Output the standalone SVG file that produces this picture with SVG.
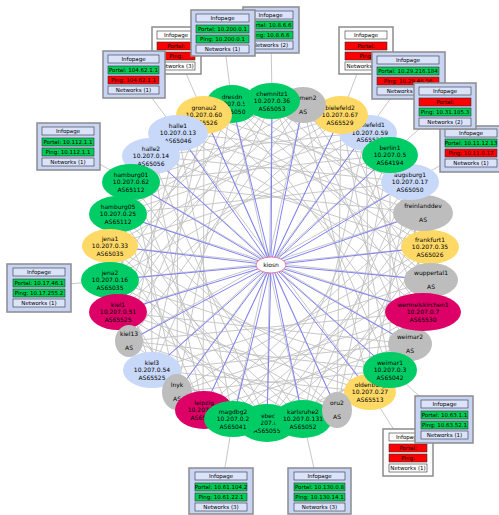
<svg xmlns="http://www.w3.org/2000/svg" width="499" height="515" viewBox="0 0 499 515">
<style>
text{font-family:"DejaVu Sans",sans-serif;font-size:6px;text-anchor:middle;fill:#000}
.g{fill:#00cc66}.y{fill:#ffd966}.b{fill:#c8d8f8}.s{fill:#bdbdbd}.m{fill:#dd0066}
.mesh{fill:none;stroke:#c2c2c2;stroke-width:0.9}
.spk{fill:none;stroke:#7373ff;stroke-width:0.9}
.lnk{fill:none;stroke:#c8c8c8;stroke-width:1}
.ob{fill:#c8d4f4;stroke:#8c8c8c;stroke-width:1.5}
.ow{fill:#fff;stroke:#8c8c8c;stroke-width:1.5}
.ch{fill:#dae3fa;stroke:#333;stroke-width:0.6}
.cw{fill:#fff;stroke:#333;stroke-width:0.6}
.cg{fill:#00cc55;stroke:#333;stroke-width:0.6}
.cr{fill:#ff0000;stroke:#333;stroke-width:0.6}
.bt{font-size:5.5px}
</style>
<g id="connectors">
<path class="mesh" d="M272 101L151 156M232 104L131 182M204 115L118 214M178 133L110 246M151 156L110 280M131 182L118 312M118 214L129 341M110 246L152 370M110 280L177 392M118 312L203 410M129 341L233 419M152 370L267 423M177 392L303 419M203 410L337 410M233 419L370 392M267 423L390 370M303 419L410 344M337 410L423 312M370 392L431 280M390 370L430 247M410 344L423 213M423 312L410 182M431 280L390 155M430 247L366 132M423 213L341 116M410 182L303 105M390 155L272 101M366 132L232 104M341 116L204 115M303 105L178 133"/>
<path class="mesh" d="M272 101L110 246M232 104L110 280M204 115L118 312M178 133L129 341M151 156L152 370M131 182L177 392M118 214L203 410M110 246L233 419M110 280L267 423M118 312L303 419M129 341L337 410M152 370L370 392M177 392L390 370M203 410L410 344M233 419L423 312M267 423L431 280M303 419L430 247M337 410L423 213M370 392L410 182M390 370L390 155M410 344L366 132M423 312L341 116M431 280L303 105M430 247L272 101M423 213L232 104M410 182L204 115M390 155L178 133M366 132L151 156M341 116L131 182M303 105L118 214"/>
<path class="mesh" d="M272 101L118 312M232 104L129 341M204 115L152 370M178 133L177 392M151 156L203 410M131 182L233 419M118 214L267 423M110 246L303 419M110 280L337 410M118 312L370 392M129 341L390 370M152 370L410 344M177 392L423 312M203 410L431 280M233 419L430 247M267 423L423 213M303 419L410 182M337 410L390 155M370 392L366 132M390 370L341 116M410 344L303 105M423 312L272 101M431 280L232 104M430 247L204 115M423 213L178 133M410 182L151 156M390 155L131 182M366 132L118 214M341 116L110 246M303 105L110 280"/>
<path class="mesh" d="M272 101L152 370M232 104L177 392M204 115L203 410M178 133L233 419M151 156L267 423M131 182L303 419M118 214L337 410M110 246L370 392M110 280L390 370M118 312L410 344M129 341L423 312M152 370L431 280M177 392L430 247M203 410L423 213M233 419L410 182M267 423L390 155M303 419L366 132M337 410L341 116M370 392L303 105M390 370L272 101M410 344L232 104M423 312L204 115M431 280L178 133M430 247L151 156M423 213L131 182M410 182L118 214M390 155L110 246M366 132L110 280M341 116L118 312M303 105L129 341"/>
<path class="mesh" d="M272 101L267 423M232 104L303 419M204 115L337 410M178 133L370 392M151 156L390 370M131 182L410 344M118 214L423 312M110 246L431 280M110 280L430 247M118 312L423 213M129 341L410 182M152 370L390 155M177 392L366 132M203 410L341 116M233 419L303 105"/>
<path class="spk" d="M271 265L272 101M271 265L232 104M271 265L204 115M271 265L178 133M271 265L151 156M271 265L131 182M271 265L118 214M271 265L110 246M271 265L110 280M271 265L118 312M271 265L129 341M271 265L152 370M271 265L177 392M271 265L203 410M271 265L233 419M271 265L267 423M271 265L303 419M271 265L337 410M271 265L370 392M271 265L390 370M271 265L410 344M271 265L423 312M271 265L431 280M271 265L430 247M271 265L423 213M271 265L410 182M271 265L390 155M271 265L366 132M271 265L341 116M271 265L303 105"/>
<path class="lnk" d="M134 74L178 133M176 50L204 115M223 33L232 104M271 30L272 101M366 50L341 116M408 75L366 132M445 106L390 155M471 149L410 182M68 146L131 182M39 287L110 280M221 491L233 419M319 491L303 419M408 452L370 392M444 419L390 369"/>
</g>
<g id="nodes">
<g id="n-dresdn"><ellipse class="g" cx="232" cy="104" rx="26" ry="19"/><text x="232" y="98.7">dresdn<tspan x="232" dy="7.5">10.207.0.55</tspan><tspan x="232" dy="7.5">AS65050</tspan></text></g>
<g id="n-bielefeld1"><ellipse class="b" cx="368" cy="133" rx="29" ry="18"/><text x="370" y="127.2">bielefeld1<tspan x="370" dy="7.5">10.207.0.59</tspan><tspan x="370" dy="7.5">AS65528</tspan></text></g>
<g id="n-bielefeld2"><ellipse class="y" cx="341" cy="115" rx="27" ry="19"/><text x="340" y="109.7">bielefeld2<tspan x="340" dy="7.5">10.207.0.67</tspan><tspan x="340" dy="7.5">AS65529</tspan></text></g>
<g id="n-bremen2"><ellipse class="s" cx="303" cy="105" rx="23" ry="18"/><text x="303" y="100">bremen2<tspan x="303" dy="14">AS</tspan></text></g>
<g id="n-chemnitz1"><ellipse class="g" cx="272" cy="101" rx="28" ry="18"/><text x="272" y="95.7">chemnitz1<tspan x="272" dy="7.5">10.207.0.36</tspan><tspan x="272" dy="7.5">AS65053</tspan></text></g>
<g id="n-gronau2"><ellipse class="y" cx="204" cy="115" rx="28" ry="19"/><text x="204" y="109.7">gronau2<tspan x="204" dy="7.5">10.207.0.60</tspan><tspan x="204" dy="7.5">AS65526</tspan></text></g>
<g id="n-halle1"><ellipse class="b" cx="178" cy="133" rx="30" ry="18"/><text x="178" y="127.7">halle1<tspan x="178" dy="7.5">10.207.0.13</tspan><tspan x="178" dy="7.5">AS65046</tspan></text></g>
<g id="n-halle2"><ellipse class="b" cx="151" cy="156" rx="29" ry="18"/><text x="151" y="150.7">halle2<tspan x="151" dy="7.5">10.207.0.14</tspan><tspan x="151" dy="7.5">AS65056</tspan></text></g>
<g id="n-hamburg01"><ellipse class="g" cx="131" cy="182" rx="29" ry="18"/><text x="131" y="176.7">hamburg01<tspan x="131" dy="7.5">10.207.0.62</tspan><tspan x="131" dy="7.5">AS65112</tspan></text></g>
<g id="n-hamburg05"><ellipse class="g" cx="118" cy="214" rx="29" ry="18"/><text x="118" y="208.7">hamburg05<tspan x="118" dy="7.5">10.207.0.25</tspan><tspan x="118" dy="7.5">AS65112</tspan></text></g>
<g id="n-jena1"><ellipse class="y" cx="110" cy="246" rx="28" ry="17"/><text x="110" y="240.7">jena1<tspan x="110" dy="7.5">10.207.0.33</tspan><tspan x="110" dy="7.5">AS65035</tspan></text></g>
<g id="n-jena2"><ellipse class="g" cx="110" cy="280" rx="29" ry="18"/><text x="110" y="274.7">jena2<tspan x="110" dy="7.5">10.207.0.16</tspan><tspan x="110" dy="7.5">AS65035</tspan></text></g>
<g id="n-kiel1"><ellipse class="m" cx="118" cy="312" rx="29" ry="18"/><text x="118" y="306.7">kiel1<tspan x="118" dy="7.5">10.207.0.51</tspan><tspan x="118" dy="7.5">AS65525</tspan></text></g>
<g id="n-kiel13"><ellipse class="s" cx="129" cy="341" rx="14" ry="16"/><text x="129" y="336">kiel13<tspan x="129" dy="14">AS</tspan></text></g>
<g id="n-kiel3"><ellipse class="b" cx="152" cy="370" rx="29" ry="18"/><text x="152" y="364.7">kiel3<tspan x="152" dy="7.5">10.207.0.54</tspan><tspan x="152" dy="7.5">AS65525</tspan></text></g>
<g id="n-lnyk"><ellipse class="s" cx="177" cy="392" rx="15" ry="18"/><text x="177" y="387">lnyk<tspan x="177" dy="14">AS</tspan></text></g>
<g id="n-leipzig"><ellipse class="m" cx="204" cy="410" rx="29" ry="19"/><text x="204" y="404.7">leipzig<tspan x="204" dy="7.5">10.207.0.1</tspan><tspan x="204" dy="7.5">AS65531</tspan></text></g>
<g id="n-ebe"><ellipse class="g" cx="267" cy="423" rx="29" ry="19"/><text x="267" y="417.7">luebeck<tspan x="267" dy="7.5">10.207.0.4</tspan><tspan x="267" dy="7.5">AS65055</tspan></text></g>
<g id="n-mgdbg2"><ellipse class="g" cx="233" cy="419" rx="29" ry="18"/><text x="233" y="413.7">magdbg2<tspan x="233" dy="7.5">10.207.0.2</tspan><tspan x="233" dy="7.5">AS65041</tspan></text></g>
<g id="n-karlsruhe2"><ellipse class="g" cx="303" cy="419" rx="29" ry="19"/><text x="303" y="413.7">karlsruhe2<tspan x="303" dy="7.5">10.207.0.131</tspan><tspan x="303" dy="7.5">AS65052</tspan></text></g>
<g id="n-oldenburg"><ellipse class="y" cx="370" cy="392" rx="26" ry="18"/><text x="370" y="386.7">oldenburg<tspan x="370" dy="7.5">10.207.0.27</tspan><tspan x="370" dy="7.5">AS65513</tspan></text></g>
<g id="n-oru2"><ellipse class="s" cx="337" cy="410" rx="15" ry="18"/><text x="337" y="405">oru2<tspan x="337" dy="14">AS</tspan></text></g>
<g id="n-weimar2"><ellipse class="s" cx="410" cy="344" rx="22" ry="17"/><text x="410" y="339">weimar2<tspan x="410" dy="14">AS</tspan></text></g>
<g id="n-weimar1"><ellipse class="g" cx="390" cy="370" rx="27" ry="18"/><text x="390" y="364.7">weimar1<tspan x="390" dy="7.5">10.207.0.3</tspan><tspan x="390" dy="7.5">AS65042</tspan></text></g>
<g id="n-frankfurt1"><ellipse class="y" cx="430" cy="247" rx="29" ry="17"/><text x="430" y="241.7">frankfurt1<tspan x="430" dy="7.5">10.207.0.35</tspan><tspan x="430" dy="7.5">AS65026</tspan></text></g>
<g id="n-wuppertal1"><ellipse class="s" cx="431" cy="280" rx="27" ry="17"/><text x="431" y="275">wuppertal1<tspan x="431" dy="14">AS</tspan></text></g>
<g id="n-wermelskirchen1"><ellipse class="m" cx="423" cy="312" rx="38" ry="19"/><text x="423" y="306.7">wermelskirchen1<tspan x="423" dy="7.5">10.207.0.7</tspan><tspan x="423" dy="7.5">AS65530</tspan></text></g>
<g id="n-freinlanddev"><ellipse class="s" cx="423" cy="213" rx="30" ry="18"/><text x="423" y="208">freinlanddev<tspan x="423" dy="14">AS</tspan></text></g>
<g id="n-augsburg1"><ellipse class="b" cx="410" cy="182" rx="29" ry="18"/><text x="410" y="176.7">augsburg1<tspan x="410" dy="7.5">10.207.0.17</tspan><tspan x="410" dy="7.5">AS65050</tspan></text></g>
<g id="n-berlin1"><ellipse class="g" cx="390" cy="155" rx="28" ry="18"/><text x="390" y="149.7">berlin1<tspan x="390" dy="7.5">10.207.0.5</tspan><tspan x="390" dy="7.5">AS64194</tspan></text></g>
<g id="n-kiosn"><ellipse cx="271" cy="265" rx="15" ry="8" fill="#fff" stroke="#e0608a" stroke-width="0.8"/><text x="271" y="267">kiosn</text></g>
</g>
<g id="infopages" class="bt">
<g id="box-b" transform="translate(152,27)"><rect class="ow" width="49" height="47"/><rect class="cw" x="5" y="4" width="38" height="8"/><rect class="cr" x="5" y="15" width="38" height="8"/><rect class="cr" x="5" y="25" width="38" height="8"/><rect class="cw" x="5" y="35" width="38" height="8"/><text class="bt" x="24" y="10">Infopage</text><text class="bt" x="24" y="21">Portal:</text><text class="bt" x="24" y="31">Ping:</text><text class="bt" x="24" y="41">Networks (3)</text></g>
<g id="box-a" transform="translate(103,51)"><rect class="ob" width="62" height="47"/><rect class="ch" x="5" y="4" width="51" height="8"/><rect class="cg" x="5" y="15" width="51" height="8"/><rect class="cr" x="5" y="25" width="51" height="8"/><rect class="ch" x="5" y="35" width="51" height="8"/><text class="bt" x="30.5" y="10">Infopage</text><text class="bt" x="30.5" y="21">Portal: 104.62.1.1</text><text class="bt" x="30.5" y="31">Ping: 104.62.1.1</text><text class="bt" x="30.5" y="41">Networks (1)</text></g>
<g id="box-d" transform="translate(243,7)"><rect class="ob" width="56" height="46"/><rect class="ch" x="5" y="4" width="45" height="8"/><rect class="cg" x="5" y="14" width="45" height="8"/><rect class="cg" x="5" y="24" width="45" height="8"/><rect class="ch" x="5" y="34" width="45" height="8"/><text class="bt" x="27.5" y="10">Infopage</text><text class="bt" x="27.5" y="20">Portal: 10.8.6.6</text><text class="bt" x="27.5" y="30">Ping: 10.8.6.6</text><text class="bt" x="27.5" y="40">Networks (2)</text></g>
<g id="box-c" transform="translate(191,10)"><rect class="ob" width="64" height="46"/><rect class="ch" x="5" y="4" width="53" height="8"/><rect class="cg" x="5" y="15" width="53" height="8"/><rect class="cg" x="5" y="25" width="53" height="8"/><rect class="ch" x="5" y="35" width="53" height="8"/><text class="bt" x="31.5" y="10">Infopage</text><text class="bt" x="31.5" y="21">Portal: 10.200.0.1</text><text class="bt" x="31.5" y="31">Ping: 10.200.0.1</text><text class="bt" x="31.5" y="41">Networks (1)</text></g>
<g id="box-e" transform="translate(339,27)"><rect class="ow" width="54" height="47"/><rect class="cw" x="6" y="4" width="42" height="8"/><rect class="cr" x="6" y="15" width="42" height="8"/><rect class="cr" x="6" y="25" width="42" height="8"/><rect class="cw" x="6" y="35" width="42" height="8"/><text class="bt" x="27" y="10">Infopage</text><text class="bt" x="27" y="21">Portal:</text><text class="bt" x="27" y="31">Ping:</text><text class="bt" x="27" y="41">Networks (10)</text></g>
<g id="box-f" transform="translate(372,52)"><rect class="ob" width="73" height="47"/><rect class="ch" x="5" y="4" width="62" height="8"/><rect class="cg" x="5" y="15" width="62" height="8"/><rect class="cr" x="5" y="25" width="62" height="8"/><rect class="ch" x="5" y="35" width="62" height="8"/><text class="bt" x="36" y="10">Infopage</text><text class="bt" x="36" y="21">Portal: 10.29.216.184</text><text class="bt" x="36" y="31">Ping: 10.29.46.56</text><text class="bt" x="36" y="41">Networks (139)</text></g>
<g id="box-h" transform="translate(440,126)"><rect class="ob" width="62" height="46"/><rect class="ch" x="5" y="3" width="52" height="8"/><rect class="cg" x="5" y="13" width="52" height="8"/><rect class="cr" x="5" y="23" width="52" height="8"/><rect class="ch" x="5" y="33" width="52" height="8"/><text class="bt" x="31" y="9">Infopage</text><text class="bt" x="31" y="19">Portal: 10.11.12.13</text><text class="bt" x="31" y="29">Ping: 10.11.0.17</text><text class="bt" x="31" y="39">Networks (1)</text></g>
<g id="box-g" transform="translate(414,83)"><rect class="ob" width="62" height="46"/><rect class="ch" x="5" y="4" width="52" height="8"/><rect class="cr" x="5" y="15" width="52" height="8"/><rect class="cg" x="5" y="25" width="52" height="8"/><rect class="ch" x="5" y="35" width="52" height="8"/><text class="bt" x="31" y="10">Infopage</text><text class="bt" x="31" y="21">Portal:</text><text class="bt" x="31" y="31">Ping: 10.31.105.3</text><text class="bt" x="31" y="41">Networks (2)</text></g>
<g id="box-i" transform="translate(37,123)"><rect class="ob" width="63" height="47"/><rect class="ch" x="5" y="4" width="52" height="8"/><rect class="cg" x="5" y="15" width="52" height="8"/><rect class="cg" x="5" y="25" width="52" height="8"/><rect class="ch" x="5" y="35" width="52" height="8"/><text class="bt" x="31" y="10">Infopage</text><text class="bt" x="31" y="21">Portal: 10.112.1.1</text><text class="bt" x="31" y="31">Ping: 10.112.1.1</text><text class="bt" x="31" y="41">Networks (1)</text></g>
<g id="box-j" transform="translate(7,264)"><rect class="ob" width="64" height="48"/><rect class="ch" x="6" y="4" width="52" height="8"/><rect class="cg" x="6" y="15" width="52" height="8"/><rect class="cg" x="6" y="25" width="52" height="8"/><rect class="ch" x="6" y="35" width="52" height="8"/><text class="bt" x="32" y="10">Infopage</text><text class="bt" x="32" y="21">Portal: 10.17.46.1</text><text class="bt" x="32" y="31">Ping: 10.17.255.2</text><text class="bt" x="32" y="41">Networks (1)</text></g>
<g id="box-k" transform="translate(189,468)"><rect class="ob" width="64" height="46"/><rect class="ch" x="6" y="4" width="52" height="8"/><rect class="cg" x="6" y="15" width="52" height="8"/><rect class="cg" x="6" y="25" width="52" height="8"/><rect class="ch" x="6" y="35" width="52" height="8"/><text class="bt" x="32" y="10">Infopage</text><text class="bt" x="32" y="21">Portal: 10.61.104.2</text><text class="bt" x="32" y="31">Ping: 10.61.22.1</text><text class="bt" x="32" y="41">Networks (3)</text></g>
<g id="box-l" transform="translate(288,468)"><rect class="ob" width="63" height="46"/><rect class="ch" x="6" y="4" width="51" height="8"/><rect class="cg" x="6" y="15" width="51" height="8"/><rect class="cg" x="6" y="25" width="51" height="8"/><rect class="ch" x="6" y="35" width="51" height="8"/><text class="bt" x="31.5" y="10">Infopage</text><text class="bt" x="31.5" y="21">Portal: 10.130.0.8</text><text class="bt" x="31.5" y="31">Ping: 10.130.14.1</text><text class="bt" x="31.5" y="41">Networks (3)</text></g>
<g id="box-m" transform="translate(383,429)"><rect class="ow" width="50" height="47"/><rect class="cw" x="6" y="4" width="38" height="8"/><rect class="cr" x="6" y="15" width="38" height="8"/><rect class="cr" x="6" y="25" width="38" height="8"/><rect class="cw" x="6" y="35" width="38" height="8"/><text class="bt" x="25" y="10">Infopage</text><text class="bt" x="25" y="21">Portal:</text><text class="bt" x="25" y="31">Ping:</text><text class="bt" x="25" y="41">Networks (1)</text></g>
<g id="box-n" transform="translate(415,396)"><rect class="ob" width="58" height="47"/><rect class="ch" x="6" y="4" width="47" height="8"/><rect class="cg" x="6" y="15" width="47" height="8"/><rect class="cg" x="6" y="25" width="47" height="8"/><rect class="ch" x="6" y="35" width="47" height="8"/><text class="bt" x="29.5" y="10">Infopage</text><text class="bt" x="29.5" y="21">Portal: 10.63.1.1</text><text class="bt" x="29.5" y="31">Ping: 10.63.52.1</text><text class="bt" x="29.5" y="41">Networks (1)</text></g>
</g>
</svg>
